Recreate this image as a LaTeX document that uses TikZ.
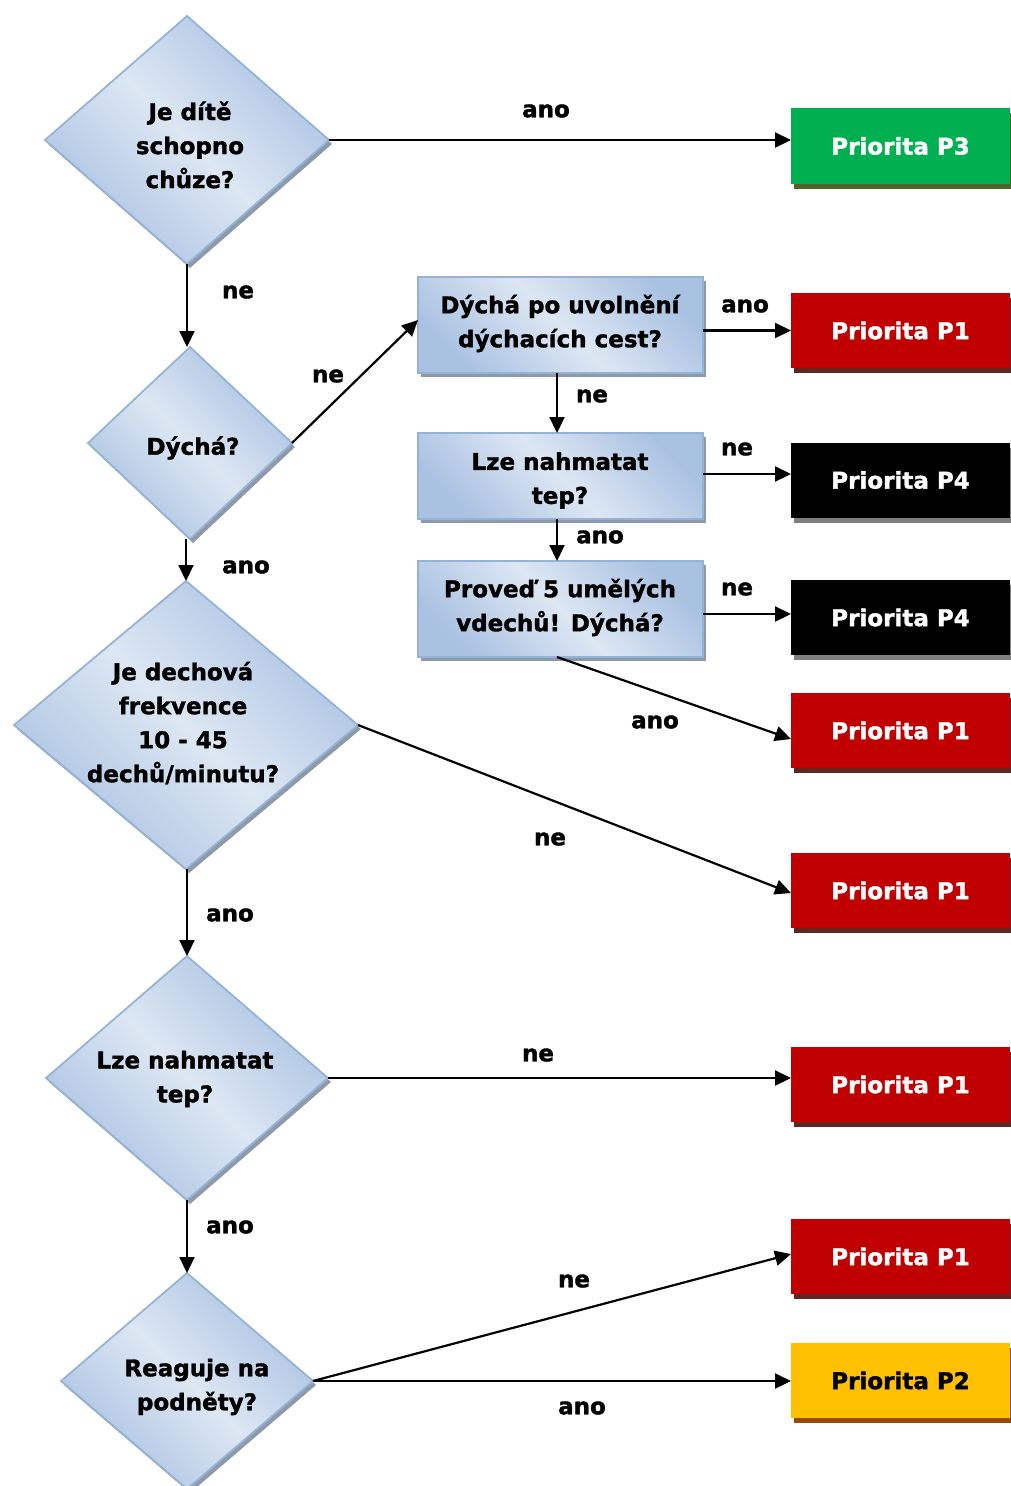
\documentclass[tikz,border=0pt]{standalone}
\usepackage{fontspec}
\setmainfont{DejaVu Sans}[BoldFeatures={FakeBold=1.5}]
\usetikzlibrary{shapes.geometric,arrows.meta,shadows}
\definecolor{inc}{RGB}{221,231,243}
\definecolor{outc}{RGB}{170,194,226}
\definecolor{bord}{RGB}{149,179,215}
\definecolor{shc}{RGB}{142,154,170}
\definecolor{pgreen}{RGB}{0,176,80}
\definecolor{pgreensh}{RGB}{79,98,40}
\definecolor{pred}{RGB}{192,0,0}
\definecolor{predsh}{RGB}{99,37,35}
\definecolor{pblacksh}{RGB}{127,127,127}
\definecolor{pyellow}{RGB}{255,192,0}
\definecolor{pyellowsh}{RGB}{151,72,6}
\begin{document}
\begin{tikzpicture}[x=1pt,y=-1pt,
  every node/.style={font=\bfseries\fontsize{23}{34}\selectfont},
  blueshape/.style={draw=bord, line width=1.8pt, top color=outc, bottom color=outc, middle color=inc,
     shading angle=-45, inner sep=0pt, outer sep=0pt,
     drop shadow={shadow xshift=3pt, shadow yshift=-4pt, fill=shc, opacity=1}},
  dia/.style={shape=diamond, blueshape},
  rbox/.style={shape=rectangle, blueshape, minimum width=285pt},
  txt/.style={align=center, inner sep=0pt},
  lab/.style={inner sep=0pt},
  prio/.style={shape=rectangle, minimum width=219pt, minimum height=75pt, inner sep=0pt, outer sep=0pt,
     fill=#1},
  psh/.style={drop shadow={shadow xshift=3pt, shadow yshift=-5pt, fill=#1, opacity=1}},
  arr/.style={line width=2.2pt, -{Triangle[length=16pt,width=15pt]}}
]
\useasboundingbox (0,0) rectangle (1010,1486);

% diamonds
\node[dia, minimum width=284pt, minimum height=248pt] (d1) at (187,140) {};
\node[txt] (t1) at (190,145) {Je dítě\\schopno\\chůze?};
\node[dia, minimum width=204pt, minimum height=192pt] (d2) at (190,443) {};
\node[txt] (t2) at (193,448) {Dýchá?};
\node[dia, minimum width=344pt, minimum height=288pt] (d3) at (186,725) {};
\node[txt] (t3) at (183,723) {Je dechová\\frekvence\\10 - 45\\dechů/minutu?};
\node[dia, minimum width=282pt, minimum height=244pt] (d4) at (187,1078) {};
\node[txt] (t4) at (185,1079) {Lze nahmatat\\tep?};
\node[dia, minimum width=252pt, minimum height=216pt] (d5) at (187,1381) {};
\node[txt] (t5) at (197,1387) {Reaguje na\\podněty?};

% rectangles
\node[rbox, minimum height=96pt] (r1) at (560.5,325) {};
\node[txt] (rt1) at (560,323.5) {Dýchá po uvolnění\\dýchacích cest?};
\node[rbox, minimum height=86pt] (r2) at (560.5,476) {};
\node[txt] (rt2) at (560,480.5) {Lze nahmatat\\tep?};
\node[rbox, minimum height=96pt] (r3) at (560.5,609) {};
\node[txt] (rt3) at (560,607.5) {Proveď 5 umělých\\vdechů! Dýchá?};

% priority boxes
\node[prio=pgreen, psh=pgreensh, minimum height=76pt, text=white] (p3) at (900.5,146) {Priorita P3};
\node[prio=pred, psh=predsh, text=white] (p1a) at (900.5,330.5) {Priorita P1};
\node[prio=black, psh=pblacksh, text=white] (p4a) at (900.5,480) {Priorita P4};
\node[prio=black, psh=pblacksh, text=white] (p4b) at (900.5,617.5) {Priorita P4};
\node[prio=pred, psh=predsh, text=white] (p1b) at (900.5,730.5) {Priorita P1};
\node[prio=pred, psh=predsh, text=white] (p1c) at (900.5,890.5) {Priorita P1};
\node[prio=pred, psh=predsh, text=white] (p1d) at (900.5,1084.5) {Priorita P1};
\node[prio=pred, psh=predsh, text=white] (p1e) at (900.5,1256.5) {Priorita P1};
\node[prio=pyellow, psh=pyellowsh, text=black] (p2) at (900.5,1380.5) {Priorita P2};

% helper coordinates
\coordinate (a3) at ([yshift=7pt]p3.west);
\coordinate (a4) at ([yshift=6pt]p4a.west);
\coordinate (a5) at ([yshift=3.5pt]p4b.west);
\coordinate (a6) at ([xshift=-3.5pt]r1.south);
\coordinate (a7) at ([xshift=-3.5pt]r2.south);
\coordinate (a8) at ([xshift=-3.5pt]r3.south);

% connectors
\draw[arr] (d1.east) -- (d1.east -| a3);
\draw[arr] (d1.south) -- (d1.south |- d2.north);
\draw[arr] (d2.east) -- ([yshift=5pt]r1.west);
\draw[arr] (r1.east |- p1a.west) -- (p1a.west);
\draw[arr] (a6) -- (a6 |- r2.north);
\draw[arr] (r2.east |- a4) -- (a4);
\draw[arr] (a7) -- (a7 |- r3.north);
\draw[arr] (r3.east |- a5) -- (a5);
\draw[arr] (a8) -- ([yshift=-8.5pt]p1b.west);
\draw[arr] (d2.south -| d3.north) -- (d3.north);
\draw[arr] (d3.east) -- ([yshift=-2.5pt]p1c.west);
\draw[arr] (d3.south -| d4.north) -- (d4.north);
\draw[arr] (d4.east) -- (d4.east -| p1d.west);
\draw[arr] (d4.south) -- (d5.north);
\draw[arr] (d5.east) -- ([yshift=2.5pt]p1e.west);
\draw[arr] (d5.east) -- (d5.east -| p2.west);

% labels
\node[lab] (l1) at (546,111) {ano};
\node[lab] (l2) at (238,292) {ne};
\node[lab] (l3) at (328,376) {ne};
\node[lab] (l4) at (745,306) {ano};
\node[lab] (l5) at (592,396) {ne};
\node[lab] (l6) at (737,449) {ne};
\node[lab] (l7) at (600,537) {ano};
\node[lab] (l8) at (737,589) {ne};
\node[lab] (l9) at (655,722) {ano};
\node[lab] (l10) at (246,567) {ano};
\node[lab] (l11) at (550,839) {ne};
\node[lab] (l12) at (230,915) {ano};
\node[lab] (l13) at (538,1055) {ne};
\node[lab] (l14) at (230,1227) {ano};
\node[lab] (l15) at (574,1281) {ne};
\node[lab] (l16) at (582,1408) {ano};
\end{tikzpicture}
\end{document}
